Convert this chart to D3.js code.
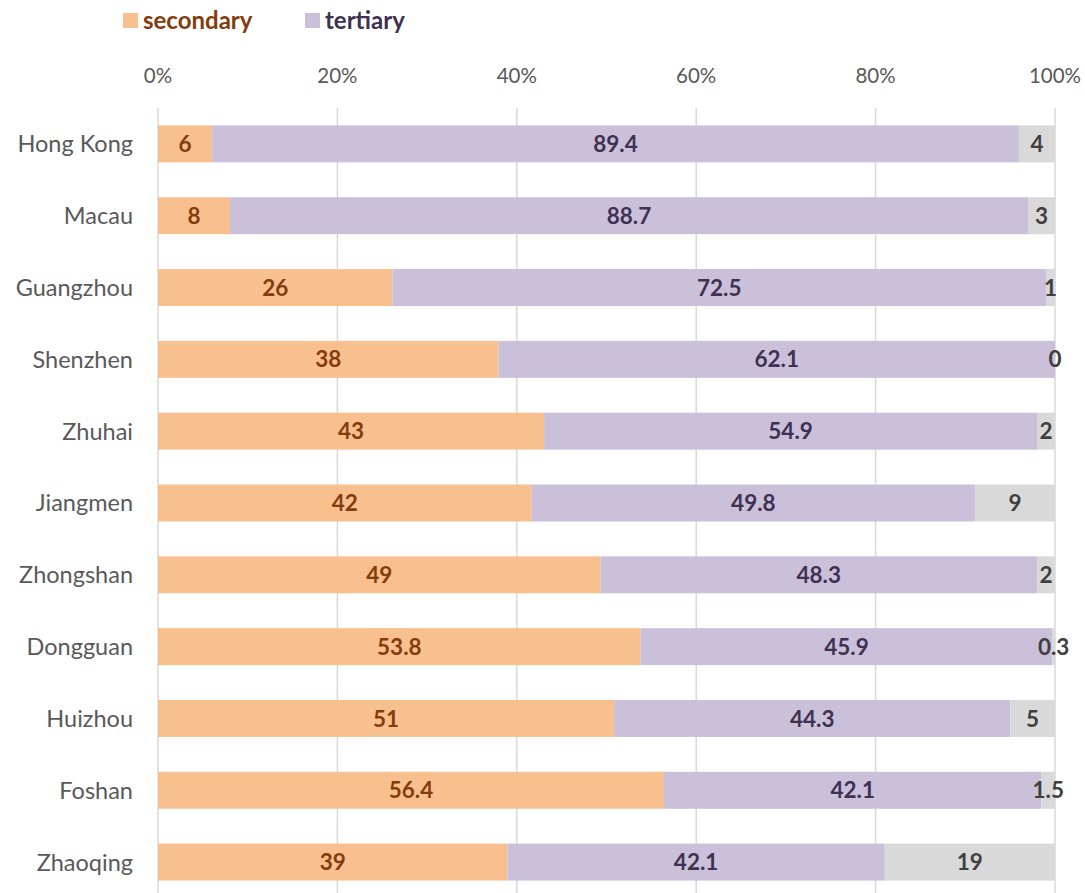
<!DOCTYPE html>
<html><head><meta charset="utf-8">
<script src="https://cdn.jsdelivr.net/npm/d3@7"></script>
<style>body{margin:0;background:#fff}svg{display:block;font-family:Lato,"Open Sans",sans-serif}</style>
</head><body><svg id="c" width="1085" height="893"></svg>
<script>
const cities = ["Hong Kong","Macau","Guangzhou","Shenzhen","Zhuhai","Jiangmen","Zhongshan","Dongguan","Huizhou","Foshan","Zhaoqing"];
const secondary = [6,8,26,38,43,42,49,53.8,51,56.4,39];
const tertiary = [89.4,88.7,72.5,62.1,54.9,49.8,48.3,45.9,44.3,42.1,42.1];
const other = [4,3,1,0,2,9,2,0.3,5,1.5,19];
const ticks = [0,0.2,0.4,0.6,0.8,1];
const seriesNames = ["secondary","tertiary"];

const svg = d3.select("#c");
const x = d3.scaleLinear().domain([0,1]).range([158,1055]);
const y = d3.scaleBand().domain(cities).range([108,898]).paddingInner(0.485).paddingOuter(0.2425);

svg.append("g").selectAll("line").data(ticks).join("line")
  .attr("x1",d=>x(d)).attr("x2",d=>x(d)).attr("y1",108).attr("y2",893)
  .attr("stroke","#d9d9d9").attr("stroke-width",1.5);

svg.append("g").selectAll("text").data(ticks).join("text")
  .attr("x",d=>x(d)).attr("y",83).attr("text-anchor","middle")
  .attr("fill","#595959").attr("font-size",20.5)
  .text(d=>d3.format(".0%")(d));

const colors = ["#F9C08F","#CBC0DA","#D9D9D9"];
const labelColors = ["#843C0C","#3F3151","#404040"];
const rows = cities.map((c,i)=>{
  const vals=[secondary[i],tertiary[i],other[i]];
  const tot=d3.sum(vals);
  let acc=0;
  return vals.map((v,k)=>{const s={city:c,k,v,x0:acc/tot,x1:(acc+v)/tot};acc+=v;return s;});
}).flat();

svg.append("g").selectAll("rect").data(rows).join("rect")
  .attr("x",d=>x(d.x0)).attr("width",d=>x(d.x1)-x(d.x0))
  .attr("y",d=>y(d.city)).attr("height",y.bandwidth())
  .attr("fill",d=>colors[d.k]);

svg.append("g").selectAll("text").data(rows).join("text")
  .attr("x",d=>(x(d.x0)+x(d.x1))/2).attr("y",d=>y(d.city)+y.bandwidth()/2)
  .attr("dy","0.36em").attr("text-anchor","middle")
  .attr("font-size",22.5).attr("font-weight","bold")
  .attr("fill",d=>labelColors[d.k]).text(d=>d.v);

svg.append("g").selectAll("text").data(cities).join("text")
  .attr("x",133).attr("y",d=>y(d)+y.bandwidth()/2).attr("dy","0.36em")
  .attr("text-anchor","end").attr("fill","#595959").attr("font-size",23.5).text(d=>d);

const lg = svg.append("g");
const lx=[123,305];
seriesNames.forEach((n,i)=>{
  lg.append("rect").attr("x",lx[i]).attr("y",13).attr("width",15).attr("height",15).attr("fill",colors[i]);
  lg.append("text").attr("x",lx[i]+20).attr("y",29).attr("font-size",24).attr("font-weight","bold")
    .attr("fill",labelColors[i]).text(n);
});
</script></body></html>
